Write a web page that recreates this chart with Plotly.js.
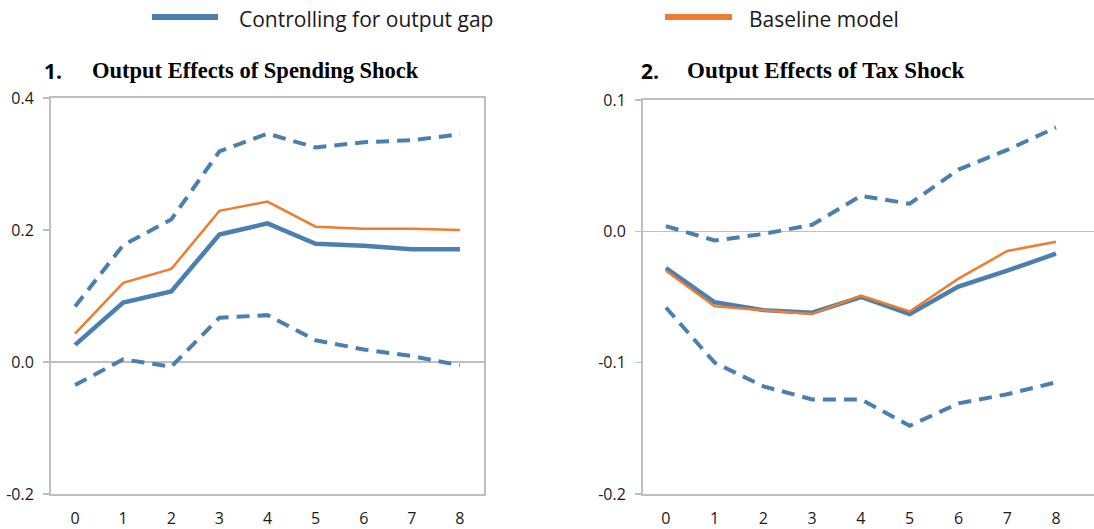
<!DOCTYPE html>
<html>
<head>
<meta charset="utf-8">
<script src="https://cdn.plot.ly/plotly-3.0.1.min.js"></script>
<style>html,body{margin:0;padding:0;background:#fff;}#chart{width:1094px;height:529px;}</style>
</head>
<body>
<div id="chart"></div>
<script>
// ---- Data ----
var horizons = [0, 1, 2, 3, 4, 5, 6, 7, 8];

// Panel 1: Output Effects of Spending Shock
var spendGap      = [0.026, 0.090, 0.107, 0.193, 0.210, 0.179, 0.176, 0.171, 0.171];
var spendBaseline = [0.043, 0.120, 0.141, 0.229, 0.243, 0.205, 0.202, 0.202, 0.200];
var spendUpper    = [0.084, 0.177, 0.216, 0.319, 0.346, 0.325, 0.333, 0.336, 0.345];
var spendLower    = [-0.035, 0.004, -0.007, 0.067, 0.071, 0.033, 0.019, 0.009, -0.005];

// Panel 2: Output Effects of Tax Shock
var taxGap      = [-0.028, -0.054, -0.060, -0.062, -0.050, -0.063, -0.042, -0.030, -0.017];
var taxBaseline = [-0.030, -0.057, -0.060, -0.063, -0.049, -0.061, -0.036, -0.015, -0.008];
var taxUpper    = [0.004, -0.007, -0.002, 0.005, 0.027, 0.021, 0.047, 0.062, 0.079];
var taxLower    = [-0.058, -0.100, -0.118, -0.128, -0.128, -0.148, -0.131, -0.124, -0.115];

var seriesNames = ['Controlling for output gap', 'Baseline model'];
var panelNumbers = ['1.', '2.'];
var panelTitles = ['Output Effects of Spending Shock', 'Output Effects of Tax Shock'];
var yTicks1 = [-0.2, 0.0, 0.2, 0.4];
var yTicks2 = [-0.2, -0.1, 0.0, 0.1];

// ---- Styling ----
var W = 1094, H = 529;
var BLUE = '#4a7fb0', ORANGE = '#ed7d31', GRID = '#bfbfbf', TXT = '#1a1a1a';
function px(x) { return x / W; }
function py(y) { return 1 - y / H; }

function solid(x, y, color, width, xa, ya) {
  return {x: x, y: y, type: 'scatter', mode: 'lines', xaxis: xa, yaxis: ya,
          line: {color: color, width: width}, showlegend: false, hoverinfo: 'skip'};
}
function dashed(x, y, xa, ya) {
  return {x: x, y: y, type: 'scatter', mode: 'lines', xaxis: xa, yaxis: ya,
          line: {color: BLUE, width: 4, dash: '13px,8px'}, showlegend: false, hoverinfo: 'skip'};
}

var data = [
  dashed(horizons, spendUpper, 'x', 'y'),
  dashed(horizons, spendLower, 'x', 'y'),
  solid(horizons, spendGap, BLUE, 4.5, 'x', 'y'),
  solid(horizons, spendBaseline, ORANGE, 2.5, 'x', 'y'),
  dashed(horizons, taxUpper, 'x2', 'y2'),
  dashed(horizons, taxLower, 'x2', 'y2'),
  solid(horizons, taxGap, BLUE, 4.5, 'x2', 'y2'),
  solid(horizons, taxBaseline, ORANGE, 2.5, 'x2', 'y2')
];

var tickFont = {family: 'Open Sans, Noto Sans, sans-serif', size: 16, color: TXT};
var legFont = {family: 'Open Sans, Noto Sans, sans-serif', size: 21, color: TXT};

function xAxis(d0, d1, range, anchor) {
  return {domain: [px(d0), d1 >= W ? 1 : px(d1)], anchor: anchor, range: range,
          tickmode: 'array', tickvals: horizons, ticktext: horizons.map(String),
          ticks: '', showgrid: false, zeroline: false, showline: true, mirror: true,
          linecolor: GRID, linewidth: 2, tickfont: tickFont, ticklabelstandoff: 9,
          fixedrange: true, automargin: false};
}
function yAxis(top, bottom, range, ticks, anchor, mirror) {
  return {domain: [py(bottom), py(top)], anchor: anchor, range: range,
          tickmode: 'array', tickvals: ticks, ticktext: ticks.map(function (v) { return v.toFixed(1); }),
          ticks: 'outside', ticklen: 6, tickcolor: GRID, tickwidth: 1.5,
          showgrid: false, zeroline: true, zerolinecolor: GRID, zerolinewidth: 1.5,
          showline: true, mirror: mirror, linecolor: GRID, linewidth: 2,
          tickfont: tickFont, ticklabelstandoff: 6, fixedrange: true, automargin: false};
}

var layout = {
  width: W, height: H,
  margin: {l: 0, r: 0, t: 0, b: 0},
  paper_bgcolor: '#fff', plot_bgcolor: '#fff',
  showlegend: false,
  xaxis: xAxis(51, 484, [-0.5, 8.5], 'y'),
  yaxis: yAxis(98, 494, [-0.2, 0.4], yTicks1, 'x', true),
  xaxis2: xAxis(643, 1094, [-0.47, 8.78], 'y2'),
  yaxis2: yAxis(100, 494, [-0.2, 0.1], yTicks2, 'x2', false),
  shapes: [
    {type: 'line', xref: 'paper', yref: 'paper', x0: px(152), x1: px(218), y0: py(17), y1: py(17),
     line: {color: BLUE, width: 6}},
    {type: 'line', xref: 'paper', yref: 'paper', x0: px(665), x1: px(732), y0: py(17), y1: py(17),
     line: {color: ORANGE, width: 6}}
  ],
  annotations: [
    {xref: 'paper', yref: 'paper', x: px(237), y: py(19), xanchor: 'left', yanchor: 'middle',
     text: seriesNames[0], showarrow: false, font: legFont},
    {xref: 'paper', yref: 'paper', x: px(747), y: py(19), xanchor: 'left', yanchor: 'middle',
     text: seriesNames[1], showarrow: false, font: legFont},
    {xref: 'paper', yref: 'paper', x: px(42), y: py(71), xanchor: 'left', yanchor: 'middle',
     text: '<b>' + panelNumbers[0] + '</b>', showarrow: false,
     font: {family: 'Open Sans, Noto Sans, sans-serif', size: 21, color: '#000'}},
    {xref: 'paper', yref: 'paper', x: px(90), y: py(71), xanchor: 'left', yanchor: 'middle',
     text: '<b>' + panelTitles[0] + '</b>', showarrow: false,
     font: {family: 'Liberation Serif, Times New Roman, serif', size: 22.5, color: '#000'}},
    {xref: 'paper', yref: 'paper', x: px(639), y: py(71), xanchor: 'left', yanchor: 'middle',
     text: '<b>' + panelNumbers[1] + '</b>', showarrow: false,
     font: {family: 'Open Sans, Noto Sans, sans-serif', size: 21, color: '#000'}},
    {xref: 'paper', yref: 'paper', x: px(685), y: py(71), xanchor: 'left', yanchor: 'middle',
     text: '<b>' + panelTitles[1] + '</b>', showarrow: false,
     font: {family: 'Liberation Serif, Times New Roman, serif', size: 23, color: '#000'}}
  ]
};

Plotly.newPlot('chart', data, layout, {displayModeBar: false, staticPlot: true});
</script>
</body>
</html>
